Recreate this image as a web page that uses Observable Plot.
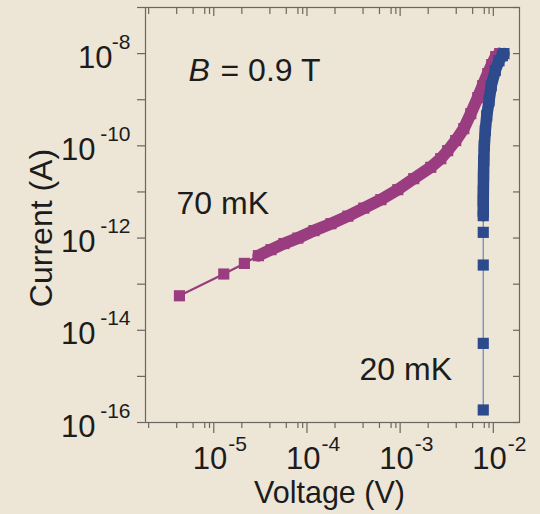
<!DOCTYPE html>
<html><head><meta charset="utf-8">
<script src="https://cdn.jsdelivr.net/npm/d3@7"></script>
<script src="https://cdn.jsdelivr.net/npm/@observablehq/plot@0.6"></script>
<style>
html,body{margin:0;padding:0;background:#ede5d6;}
#chart{width:540px;height:514px;}
</style></head><body><div id="chart"></div>
<script>
// 70 mK curve (voltage V, current A)
const v70 = [4.28e-6, 1.28e-5, 2.13e-5, 3.01e-5, 4.11e-5, 5.66e-5, 8.0e-5, 1.19e-4, 1.81e-4, 2.75e-4, 4.08e-4, 6.21e-4, 9.44e-4, 1.40e-3, 2.13e-3, 2.73e-3, 3.24e-3, 3.95e-3, 4.82e-3, 5.73e-3, 6.81e-3, 7.69e-3, 8.71e-3, 9.62e-3, 1.06e-2, 1.17e-2];
const i70 = [5.6e-14, 1.66e-13, 2.82e-13, 4.15e-13, 5.6e-13, 7.6e-13, 1.0e-12, 1.45e-12, 2.05e-12, 2.99e-12, 4.46e-12, 6.8e-12, 1.12e-11, 1.94e-11, 3.42e-11, 5.27e-11, 7.87e-11, 1.30e-10, 2.36e-10, 4.99e-10, 1.11e-9, 2.02e-9, 3.68e-9, 5.77e-9, 8.6e-9, 1.0e-8];
// 20 mK curve
const v20 = [7.8e-3, 7.8e-3, 7.8e-3, 7.8e-3, 7.8e-3, 7.8e-3, 7.82e-3, 7.85e-3, 7.9e-3, 8.0e-3, 8.2e-3, 8.5e-3, 9.0e-3, 9.5e-3, 1.05e-2, 1.15e-2, 1.25e-2, 1.3e-2];
const i20 = [1.87e-16, 5.2e-15, 2.6e-13, 1.33e-12, 3.06e-12, 6.4e-12, 1.06e-11, 2.26e-11, 4.8e-11, 1.0e-10, 2.14e-10, 4.5e-10, 9.5e-10, 2.0e-9, 4.3e-9, 7.0e-9, 9.0e-9, 1.0e-8];
// ticks
const xMajor = [1e-5, 1e-4, 1e-3, 1e-2];
const xMajorExp = ["-5", "-4", "-3", "-2"];
const xMinor = [2e-6, 4e-6, 6e-6, 8e-6, 9e-6, 2e-5, 4e-5, 6e-5, 8e-5, 9e-5, 2e-4, 4e-4, 6e-4, 8e-4, 9e-4, 2e-3, 4e-3, 6e-3, 8e-3, 9e-3];
const yTicks = [1e-16, 1e-15, 1e-14, 1e-13, 1e-12, 1e-11, 1e-10, 1e-9, 1e-8, 1e-7];
const yLabels = [1e-8, 1e-10, 1e-12, 1e-14, 1e-16];
const yLabelExp = ["-8", "-10", "-12", "-14", "-16"];

const d70 = v70.map((v, k) => ({v, i: i70[k]}));
const d20 = v20.map((v, k) => ({v, i: i20[k]}));

const W = 540, H = 514, ML = 145, MR = 21, MT = 7, MB = 92;
const FW = W - ML - MR, FH = H - MT - MB;
const axisC = "#6b665e", textC = "#1c1c1c";
const purple = "#9a3d80", blue = "#2c4a8c", blueLine = "#6f8cc0";
const FS = 31, SFS = 21;

const ySingle = yLabels.filter((d, k) => yLabelExp[k].length === 2);
const yDouble = yLabels.filter((d, k) => yLabelExp[k].length === 3);

const chart = Plot.plot({
  width: W, height: H,
  marginLeft: ML, marginRight: MR, marginTop: MT, marginBottom: MB,
  style: {background: "#ede5d6", fontFamily: "'Liberation Sans', Arial, sans-serif", color: textC, overflow: "visible"},
  x: {type: "log", domain: [1.85e-6, 1.91e-2], axis: null},
  y: {type: "log", domain: [1e-16, 1e-7], axis: null},
  marks: [
    // ticks
    Plot.ruleX(xMajor, {x: d => d, insetTop: FH, insetBottom: -11, stroke: axisC, strokeWidth: 1.2}),
    Plot.ruleX(xMinor, {x: d => d, insetTop: FH, insetBottom: -6, stroke: axisC, strokeWidth: 1.2}),
    Plot.ruleX(xMajor, {x: d => d, insetTop: 0, insetBottom: FH - 9, stroke: axisC, strokeWidth: 1.2}),
    Plot.ruleX(xMinor, {x: d => d, insetTop: 0, insetBottom: FH - 7, stroke: axisC, strokeWidth: 1.2}),
    Plot.ruleY(yTicks, {y: d => d, insetLeft: -8, insetRight: FW, stroke: axisC, strokeWidth: 1.2}),
    Plot.ruleY(yTicks, {y: d => d, insetLeft: FW - 6, insetRight: 0, stroke: axisC, strokeWidth: 1.2}),
    Plot.frame({stroke: axisC, strokeWidth: 1.2}),
    // x tick labels
    Plot.text(xMajor, {x: d => d, frameAnchor: "bottom", text: () => "10", textAnchor: "end", lineAnchor: "bottom", dx: 13.5, dy: 46, fontSize: FS, fill: textC}),
    Plot.text(xMajor, {x: d => d, frameAnchor: "bottom", text: (d, k) => xMajorExp[k], textAnchor: "start", lineAnchor: "bottom", dx: 14.5, dy: 28, fontSize: SFS, fill: textC}),
    // y tick labels
    Plot.text(ySingle, {y: d => d, frameAnchor: "left", text: () => "10", textAnchor: "end", lineAnchor: "bottom", dx: -33, dy: 14, fontSize: FS, fill: textC}),
    Plot.text(yDouble, {y: d => d, frameAnchor: "left", text: () => "10", textAnchor: "end", lineAnchor: "bottom", dx: -50, dy: 14, fontSize: FS, fill: textC}),
    Plot.text(yLabels, {y: d => d, frameAnchor: "left", text: (d, k) => yLabelExp[k], textAnchor: "end", lineAnchor: "bottom", dx: -15, dy: -5, fontSize: SFS, fill: textC}),
    // axis titles
    Plot.text(["Voltage (V)"], {frameAnchor: "bottom", text: d => d, textAnchor: "middle", lineAnchor: "bottom", dx: -3, dy: 80, fontSize: 30.5, fill: textC}),
    Plot.text(["Current (A)"], {frameAnchor: "left", text: d => d, textAnchor: "middle", lineAnchor: "bottom", rotate: -90, dx: -94, dy: 13, fontSize: 32, fill: textC}),
    // 70 mK data
    Plot.line(d70, {x: "v", y: "i", stroke: purple, strokeWidth: 2.2}),
    Plot.line(d70.slice(3), {x: "v", y: "i", stroke: purple, strokeWidth: 12, strokeLinejoin: "round"}),
    Plot.dot(d70, {x: "v", y: "i", symbol: "square", r: 6.3, fill: purple, stroke: null}),
    // 20 mK data
    Plot.line(d20, {x: "v", y: "i", stroke: blueLine, strokeWidth: 1.3}),
    Plot.line(d20.slice(4), {x: "v", y: "i", stroke: blue, strokeWidth: 11.5, strokeLinejoin: "round"}),
    Plot.dot(d20, {x: "v", y: "i", symbol: "square", r: 6.3, fill: blue, stroke: null}),
    // annotations
    Plot.text(["B"], {frameAnchor: "top-left", text: d => d, textAnchor: "start", lineAnchor: "bottom", dx: 43, dy: 73, fontSize: 32, fontStyle: "italic", fill: textC}),
    Plot.text(["= 0.9 T"], {frameAnchor: "top-left", text: d => d, textAnchor: "start", lineAnchor: "bottom", dx: 75, dy: 73, fontSize: 32, fill: textC}),
    Plot.text(["70 mK"], {frameAnchor: "top-left", text: d => d, textAnchor: "start", lineAnchor: "bottom", dx: 31, dy: 206, fontSize: 32, fill: textC}),
    Plot.text(["20 mK"], {frameAnchor: "top-left", text: d => d, textAnchor: "start", lineAnchor: "bottom", dx: 214, dy: 372, fontSize: 32, fill: textC})
  ]
});
document.getElementById("chart").appendChild(chart);
</script>
</body></html>
